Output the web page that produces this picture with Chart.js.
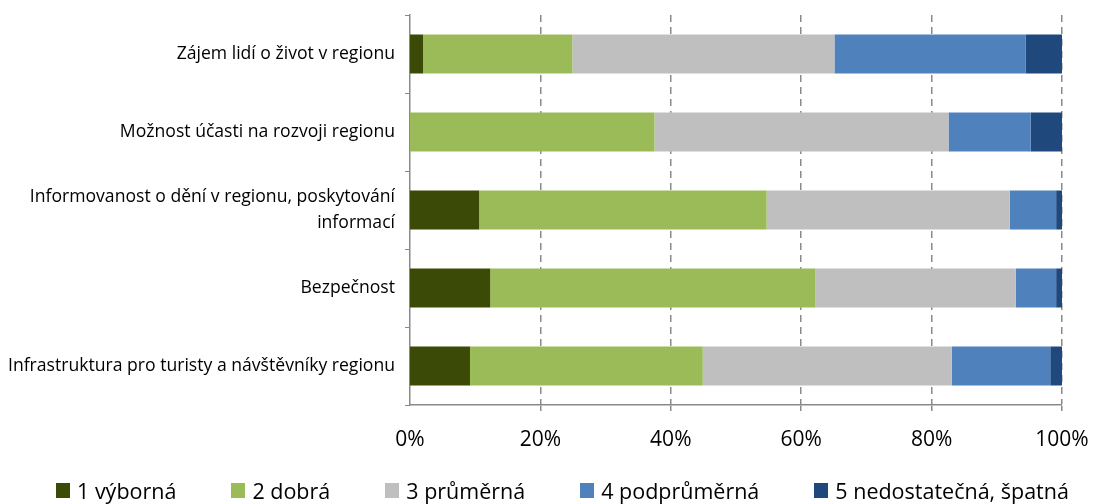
<!DOCTYPE html>
<html>
<head>
<meta charset="utf-8">
<script src="https://cdn.jsdelivr.net/npm/chart.js@4/dist/chart.umd.min.js"></script>
<style>
  html, body { margin: 0; padding: 0; background: #fff; }
  #wrap { position: relative; width: 1093px; height: 504px; }
  #legend {
    position: absolute; left: 56px; top: 476px; height: 28px;
    display: flex; align-items: center;
    font-family: 'Open Sans', sans-serif; font-size: 21.5px; color: #000;
    white-space: nowrap;
  }
  #legend .item { display: flex; align-items: center; margin-right: 55px; }
  #legend .box { width: 14px; height: 15px; margin-right: 7px; }
</style>
</head>
<body>
<div id="wrap">
  <canvas id="myChart" width="1093" height="504"></canvas>
  <div id="legend"></div>
</div>
<script>
// categories (top to bottom)
const categories = [
  'Zájem lidí o život v regionu',
  'Možnost účasti na rozvoji regionu',
  ['Informovanost o dění v regionu, poskytování', 'informací'],
  'Bezpečnost',
  'Infrastruktura pro turisty a návštěvníky regionu'
];

// shares in %
const vyborna = [2.0, 0, 10.6, 12.3, 9.2];
const dobra = [22.9, 37.5, 44.1, 49.9, 35.7];
const prumerna = [40.2, 45.1, 37.3, 30.7, 38.2];
const podprumerna = [29.3, 12.6, 7.1, 6.2, 15.1];
const spatna = [5.6, 4.8, 0.9, 0.9, 1.8];

const seriesNames = ['1 výborná', '2 dobrá', '3 průměrná', '4 podprůměrná', '5 nedostatečná, špatná'];
const seriesColors = ['#3B4A07', '#9BBB59', '#BFBFBF', '#4F81BD', '#1F497D'];
const tickLabels = ['0%', '20%', '40%', '60%', '80%', '100%'];

const fontFam = "'Open Sans', sans-serif";
const allData = [vyborna, dobra, prumerna, podprumerna, spatna];

const ctx = document.getElementById('myChart').getContext('2d');
const myChart = new Chart(ctx, {
  type: 'bar',
  data: {
    labels: categories,
    datasets: allData.map(function(d, i) {
      return {
        label: seriesNames[i],
        data: d,
        backgroundColor: seriesColors[i],
        borderWidth: 0,
        categoryPercentage: 0.5,
        barPercentage: 1.0
      };
    })
  },
  options: {
    indexAxis: 'y',
    responsive: false,
    animation: false,
    layout: { padding: { left: 0, right: 31, top: 15, bottom: 52 } },
    plugins: {
      tooltip: { enabled: false },
      legend: { display: false }
    },
    scales: {
      x: {
        stacked: true,
        min: 0,
        max: 100,
        afterFit: function(axis) {
          axis.height = 47;
          axis.paddingLeft = 0;
          axis.paddingRight = 0;
        },
        ticks: {
          stepSize: 20,
          color: '#000',
          font: { family: fontFam, size: 21 },
          padding: 16,
          maxRotation: 0,
          callback: function(v, i) { return tickLabels[i]; }
        },
        grid: {
          color: '#8a8a8a',
          lineWidth: function(c) { return c.index === 0 ? 0 : 1.5; },
          tickColor: '#8a8a8a',
          tickLength: 6
        },
        border: { color: '#8a8a8a', width: 1.5, dash: [7, 5] }
      },
      y: {
        stacked: true,
        afterFit: function(axis) {
          axis.width = 410;
          axis.paddingTop = 0;
          axis.paddingBottom = 0;
        },
        ticks: {
          color: '#000',
          font: { family: fontFam, size: 17.6, lineHeight: 1.45 },
          padding: 10
        },
        grid: {
          offset: true,
          drawOnChartArea: false,
          color: '#8a8a8a',
          tickLength: 5
        },
        border: { color: '#8a8a8a', width: 1.5 }
      }
    }
  }
});

// legend in html, built from the chart's datasets
var legendBox = document.getElementById('legend');
myChart.data.datasets.forEach(function(ds) {
  var item = document.createElement('div');
  item.classList.add('item');
  var box = document.createElement('span');
  box.classList.add('box');
  box.style.background = ds.backgroundColor;
  var txt = document.createElement('span');
  txt.textContent = ds.label;
  item.appendChild(box);
  item.appendChild(txt);
  legendBox.appendChild(item);
});
</script>
</body>
</html>
